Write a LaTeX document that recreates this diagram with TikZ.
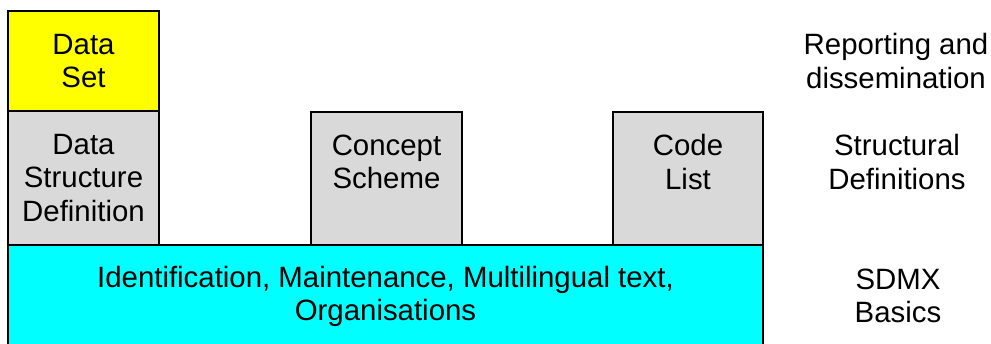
\documentclass[tikz,border=0pt]{standalone}
\usepackage{fontspec}
\setmainfont{Liberation Sans}
\usepackage{tikz}
\definecolor{dsyellow}{RGB}{255,255,0}
\definecolor{defgrey}{RGB}{217,217,217}
\definecolor{basecyan}{RGB}{0,255,255}
\tikzstyle{box} = [rectangle, draw = black, line width = 1.4pt, inner sep = 0pt, align = center, font = \fontsize{20.9}{23.6}\selectfont]
\tikzstyle{txt} = [inner sep = 0pt, align = center, font = \fontsize{20.9}{23.6}\selectfont]

\begin{document}
\begin{tikzpicture}[x = 0.025cm, y = -0.025cm]
    \useasboundingbox (0, 0) rectangle (991, 343);
    \clip (0, 0) rectangle (991, 343);

    \node (DS) at (83.5, 61) [box, fill = dsyellow, minimum width = 3.775cm, minimum height = 2.5cm] {Data\\Set};
    \node (DSD) at (83.5, 178) [box, fill = defgrey, minimum width = 3.775cm, minimum height = 3.35cm] {Data\\Structure\\Definition};
    \node (CS) at (386.5, 178.5) [box, fill = defgrey, minimum width = 3.775cm, minimum height = 3.325cm] {};
    \node (CL) at (688, 178.5) [box, fill = defgrey, minimum width = 3.75cm, minimum height = 3.325cm] {};
    \node (SB) at (385.5, 322.5) [box, fill = basecyan, minimum width = 18.875cm, minimum height = 3.875cm] {};

    \node (CStext) at (386.5, 162) [txt] {Concept\\Scheme};
    \node (CLtext) at (688, 162) [txt] {Code\\List};
    \node (SBtext) at (385.5, 296) [txt] {Identification, Maintenance, Multilingual text,\\Organisations};

    \node (RD) at (896, 61) [txt] {Reporting and\\dissemination};
    \node (SD) at (897, 162) [txt] {Structural\\Definitions};
    \node (BA) at (898, 296) [txt] {SDMX\\Basics};
\end{tikzpicture}
\end{document}
